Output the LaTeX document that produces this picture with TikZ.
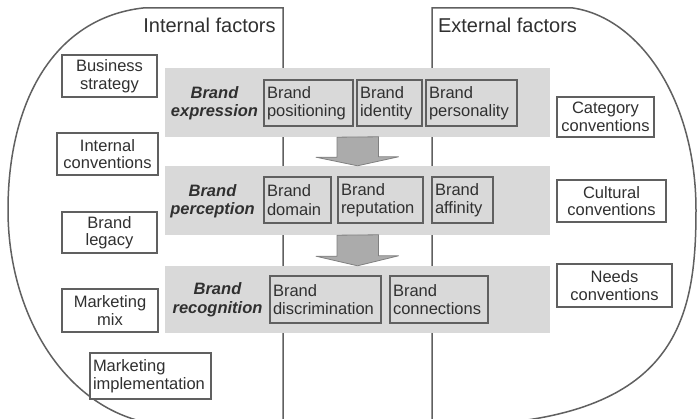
\documentclass[tikz,border=0pt]{standalone}
\usepackage{fontspec}
\setmainfont{Liberation Sans}
\definecolor{bandgray}{HTML}{D9D9D9}
\definecolor{linegray}{HTML}{606060}
\definecolor{arrowgray}{HTML}{ABABAB}
\definecolor{inkgray}{HTML}{303030}
\begin{document}
\begin{tikzpicture}[x=1pt,y=-1pt,
	factorline/.style={draw=linegray,line width=1.5pt},
	band/.style={fill=bandgray,draw=none,minimum width=385pt},
	stagelbl/.style={align=center,text=inkgray,font=\fontsize{16.5}{18.5}\selectfont\bfseries\itshape},
	factorbox/.style={draw=linegray,line width=1.3pt,fill=white,align=center,inner sep=2pt,text=inkgray,font=\fontsize{16.5}{17.5}\selectfont},
	itembox/.style={draw=linegray,line width=1.3pt,fill=bandgray,align=left,inner sep=3pt,text=inkgray,font=\fontsize{16.5}{18.5}\selectfont},
	blockarrow/.style={fill=arrowgray,draw=gray,line width=0.8pt,line join=round},
	title/.style={text=inkgray,font=\fontsize{20}{22}\selectfont}]
	\useasboundingbox (0,0) rectangle (697,419);
	\fill[white] (0,0) rectangle (697,419);
	% the two halves
	\draw[factorline] (283,419) -- (283,8) -- (143,8) .. controls (55,18) and (8,100) .. (8,210) .. controls (8,310) and (60,400) .. (140,421);
	\draw[factorline] (432,419) -- (432,8) -- (573,8) .. controls (640,18) and (696,100) .. (696,210) .. controls (696,310) and (680,400) .. (520,421);
	\node[title] (intern) at (209.5,25) {Internal factors};
	\node[title] (extern) at (507.5,25) {External factors};
	% bands
	\node[band,minimum height=69pt] (exprband) at (357.5,102.5) {};
	\node[band,minimum height=69pt] (percband) at (357.5,200.5) {};
	\node[band,minimum height=67pt] (recogband) at (357.5,299.5) {};
	\draw[blockarrow] ([xshift=-20.5pt]exprband.south) -- ++(0,20) -- ++(-21,0) -- (percband.north) -- ++(41,-9) -- ++(-20,0) -- ++(0,-20) -- cycle;
	\draw[blockarrow] ([xshift=-20.5pt]percband.south) -- ++(0,21) -- ++(-21,0) -- (recogband.north) -- ++(41,-10) -- ++(-20,0) -- ++(0,-21) -- cycle;
	% stages
	\node[stagelbl] (exprlbl) at (214.5,103) {Brand\\expression};
	\node[stagelbl] (perclbl) at (212.5,201) {Brand\\perception};
	\node[stagelbl] (recoglbl) at (217.5,299.5) {Brand\\recognition};
	\node[itembox,text width=83pt,minimum height=46pt] (positn) at (308.5,103) {Brand\\positioning};
	\node[itembox,text width=59pt,minimum height=46pt] (ident) at (389.5,103) {Brand\\identity};
	\node[itembox,text width=85pt,minimum height=46pt] (person) at (471.5,103) {Brand\\personality};
	\node[itembox,text width=61pt,minimum height=46pt] (domain) at (297.5,200) {Brand\\domain};
	\node[itembox,text width=79pt,minimum height=46pt] (reput) at (380.5,200) {Brand\\reputation};
	\node[itembox,text width=55pt,minimum height=46pt] (affin) at (462.5,200) {Brand\\affinity};
	\node[itembox,text width=105pt,minimum height=47pt] (discr) at (325.5,299.5) {Brand\\discrimination};
	\node[itembox,text width=92pt,minimum height=47pt] (connect) at (439,299.5) {Brand\\connections};
	% internal factors
	\node[factorbox,minimum width=95pt,minimum height=42pt] (bizstrat) at (109.5,76) {Business\\strategy};
	\node[factorbox,minimum width=101pt,minimum height=42pt] (intconv) at (107.5,154) {Internal\\conventions};
	\node[factorbox,minimum width=95pt,minimum height=41pt] (legacy) at (109.5,232.5) {Brand\\legacy};
	\node[factorbox,minimum width=96pt,minimum height=43pt] (mktmix) at (110,310.5) {Marketing\\mix};
	\node[factorbox,align=left,inner sep=3pt,text width=115pt,minimum height=46pt] (mktimpl) at (150.5,376) {Marketing\\implementation};
	% external factors
	\node[factorbox,minimum width=97pt,minimum height=40pt] (catconv) at (605.5,117) {Category\\conventions};
	\node[factorbox,minimum width=109pt,minimum height=42pt] (cultconv) at (611.5,201) {Cultural\\conventions};
	\node[factorbox,minimum width=115pt,minimum height=43pt] (needconv) at (614.5,285.5) {Needs\\conventions};
\end{tikzpicture}
\end{document}
